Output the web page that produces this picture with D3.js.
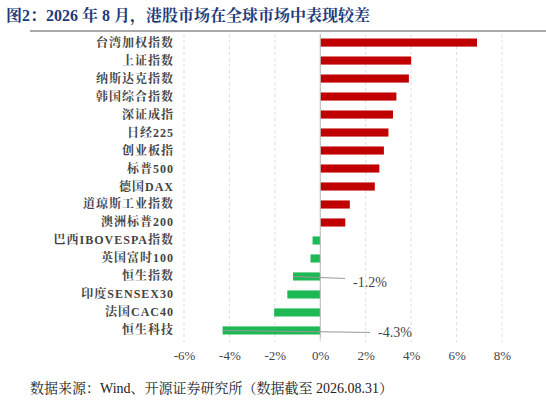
<!DOCTYPE html><html><head><meta charset="utf-8"><script src="https://cdn.jsdelivr.net/npm/d3@7"></script>
<style>body{margin:0;background:#fff}</style></head><body><svg id="c" width="546" height="406"></svg>
<script>
const categories=["台湾加权指数","上证指数","纳斯达克指数","韩国综合指数","深证成指","日经225","创业板指","标普500","德国DAX","道琼斯工业指数","澳洲标普200","巴西IBOVESPA指数","英国富时100","恒生指数","印度SENSEX30","法国CAC40","恒生科技"];
const values=[6.9,4.0,3.9,3.35,3.2,3.0,2.8,2.6,2.4,1.3,1.1,-0.34,-0.43,-1.2,-1.45,-2.03,-4.3];
const ticks=[-6,-4,-2,0,2,4,6,8];
const annotations=[{cat:"恒生指数",label:"-1.2%",lx:345,ty:283},{cat:"恒生科技",label:"-4.3%",lx:370,ty:333}];
const svg=d3.select("#c");
const serif="'Liberation Serif','Noto Serif CJK SC','Noto Sans CJK SC',serif";
svg.append("text").attr("x",6).attr("y",21).attr("fill","#1f3a7a").attr("font-size",16).attr("font-weight","bold").attr("font-family",serif).text("图2：2026 年 8 月，港股市场在全球市场中表现较差");
svg.append("line").attr("x1",30).attr("x2",546).attr("y1",31).attr("y2",31).attr("stroke","#555").attr("stroke-width",1);
const x=d3.scaleLinear().domain([-6,8]).range([184,502]);
const y=d3.scaleBand().domain(categories).range([34,339]).paddingInner(0.55).paddingOuter(0.25);
const g=svg.append("g");
g.selectAll(".gl").data(ticks).enter().append("line").attr("x1",d=>x(d)).attr("x2",d=>x(d)).attr("y1",34).attr("y2",342).attr("stroke","#ddd").attr("stroke-dasharray","3,3");
g.selectAll(".b").data(values).enter().append("rect").attr("x",d=>x(Math.min(0,d))).attr("width",d=>Math.abs(x(d)-x(0))).attr("y",(d,i)=>y(categories[i])).attr("height",y.bandwidth()).attr("fill",d=>d>=0?"#c00000":"#1db954");
g.append("line").attr("x1",x(0)).attr("x2",x(0)).attr("y1",34).attr("y2",339).attr("stroke","#bbb");
const ax=svg.append("g").attr("transform","translate(0,343)").call(d3.axisBottom(x).tickValues(ticks).tickSize(0).tickPadding(8).tickFormat(d=>d+"%"));
ax.select(".domain").remove();
ax.selectAll("text").attr("font-size",13).attr("fill","#444").attr("font-family",serif);
svg.selectAll(".cl").data(categories).enter().append("text").attr("x",174).attr("y",d=>y(d)+y.bandwidth()/2+4).attr("text-anchor","end").attr("font-size",12).attr("letter-spacing",1).attr("font-weight","bold").attr("fill","#444").attr("font-family",serif).text(d=>d);
annotations.forEach(a=>{const cy=y(a.cat)+y.bandwidth()/2;const v=values[categories.indexOf(a.cat)];
svg.append("line").attr("x1",x(v)).attr("x2",a.lx).attr("y1",cy).attr("y2",cy+2).attr("stroke","#999");
svg.append("text").attr("x",a.lx+25).attr("y",a.ty+4).attr("text-anchor","middle").attr("font-size",14).attr("fill","#444").attr("font-family",serif).text(a.label);});
svg.append("text").attr("x",30).attr("y",393).attr("font-size",14).attr("fill","#222").attr("font-family",serif).text("数据来源：Wind、开源证券研究所（数据截至 2026.08.31）");
</script></body></html>
